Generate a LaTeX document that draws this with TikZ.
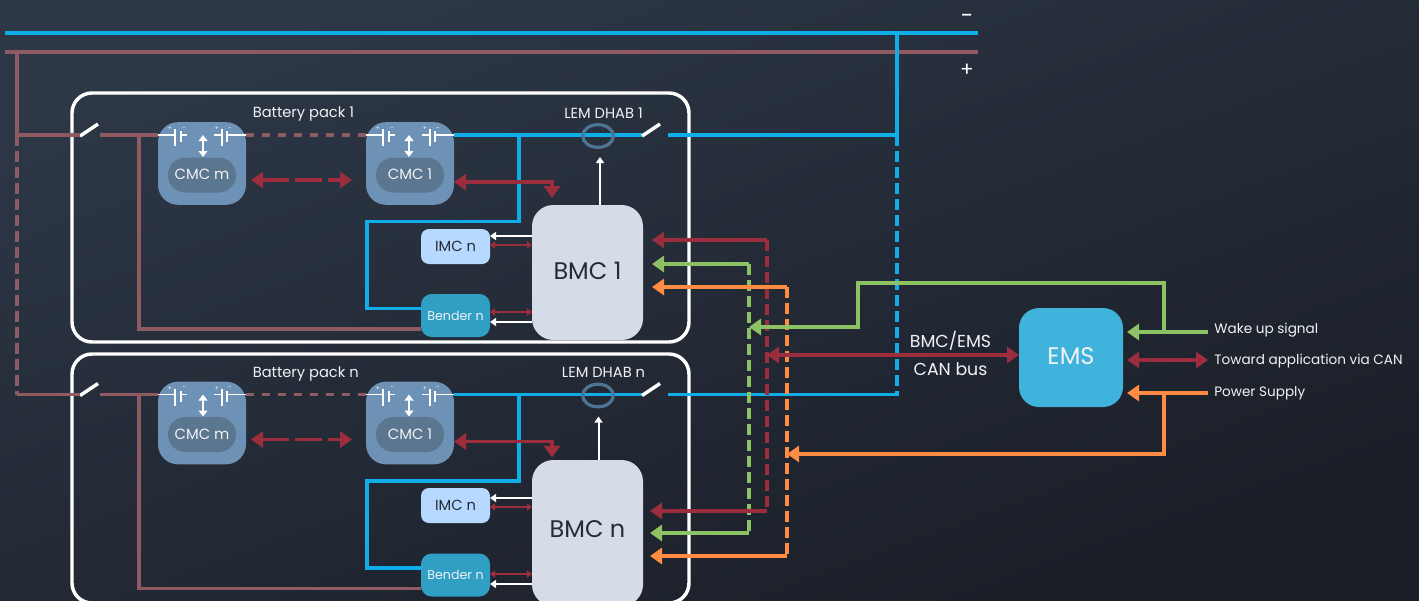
\documentclass[tikz,border=0pt]{standalone}
\usepackage{xcolor}
\usepackage{fontspec}
\setmainfont{Poppins}
\usetikzlibrary{arrows.meta,positioning,calc,shapes.geometric}
\definecolor{bgtop}{HTML}{2D3746}
\definecolor{bgbottom}{HTML}{1A1E27}
\definecolor{busblue}{HTML}{0FAEE8}
\definecolor{busbrown}{HTML}{8F5A62}
\definecolor{canred}{HTML}{9C2D3C}
\definecolor{wakegreen}{HTML}{8CC263}
\definecolor{powerorange}{HTML}{FF8C42}
\definecolor{ringblue}{HTML}{4F7596}
\definecolor{cmcblue}{HTML}{6E92B6}
\definecolor{cmcpill}{HTML}{5B768F}
\definecolor{bmcgrey}{HTML}{D5DCE7}
\definecolor{imcblue}{HTML}{B7D8FF}
\definecolor{benderblue}{HTML}{319FC4}
\definecolor{emsblue}{HTML}{3FB3DB}
\definecolor{ink}{HTML}{242C38}
\definecolor{paper}{HTML}{F0F2F5}
\tikzset{
    wire/.style={line width=2.9pt},
    bluewire/.style={wire,draw=busblue},
    brownwire/.style={wire,draw=busbrown},
    longdash/.style={dash pattern=on 8.5pt off 3.5pt},
    shortdash/.style={dash pattern=on 6pt off 6pt},
    switchbar/.style={draw=white,line width=2.6pt},
    packframe/.style={draw=white,line width=2.6pt,rounded corners=15pt,
      minimum width=462.75pt,inner sep=0pt,outer sep=0pt},
    cmcbox/.style={fill=cmcblue,rounded corners=15pt,minimum width=66pt,
      minimum height=62pt,inner sep=0pt,outer sep=0pt},
    cmcname/.style={fill=cmcpill,rounded corners=13pt,minimum width=51pt,
      minimum height=26.25pt,inner sep=0pt,outer sep=0pt,text=paper,font=\fontsize{11.1}{13}\selectfont},
    bmcbox/.style={fill=bmcgrey,rounded corners=16pt,minimum width=83.25pt,
      inner sep=0pt,outer sep=0pt,text=ink,font=\fontsize{18}{20}\selectfont},
    imcbox/.style={fill=imcblue,rounded corners=6pt,minimum width=51.75pt,
      minimum height=26.25pt,inner sep=0pt,outer sep=0pt,text=ink,font=\fontsize{11}{13}\selectfont},
    benderbox/.style={fill=benderblue,rounded corners=8pt,minimum width=51.75pt,
      minimum height=32.25pt,inner sep=0pt,outer sep=0pt,text=paper,font=\fontsize{9.5}{11}\selectfont},
    emsbox/.style={fill=emsblue,rounded corners=15pt,minimum width=78pt,
      minimum height=74.25pt,inner sep=0pt,outer sep=0pt,text=paper,font=\fontsize{18}{20}\selectfont},
    ringnode/.style={draw=ringblue,ellipse,line width=2.4pt,minimum width=23pt,
      minimum height=17pt,inner sep=0pt,outer sep=0pt},
    packlabel/.style={text=paper,inner sep=0pt,font=\fontsize{11}{13}\selectfont},
    signote/.style={text=paper,inner sep=0pt,anchor=west,font=\fontsize{10.2}{12}\selectfont},
    canlabel/.style={text=paper,inner sep=0pt,font=\fontsize{13}{15}\selectfont},
    polarity/.style={text=white,inner sep=0pt,font=\fontsize{4.5}{5}\selectfont},
    capline/.style={draw=white,line width=1.3pt},
    tinywhite/.style={-{Triangle[length=4.5pt,width=6pt]},draw=white,line width=1.5pt},
    tinyred/.style={{Triangle[length=3.8pt,width=5.5pt]}-{Triangle[length=3.8pt,width=5.5pt]},draw=canred,line width=1.1pt},
    cellarrow/.style={{Triangle[length=4.5pt,width=6.5pt]}-{Triangle[length=4.5pt,width=6.5pt]},draw=white,line width=2pt},
    canarrow/.style={{Triangle[length=9pt,width=12pt]}-{Triangle[length=9pt,width=12pt]},draw=canred,line width=2.9pt},
    redfeed/.style={-{Triangle[length=9pt,width=12pt]},draw=canred,line width=2.7pt},
    greenfeed/.style={-{Triangle[length=9pt,width=12pt]},draw=wakegreen,line width=2.7pt},
    orangefeed/.style={-{Triangle[length=9pt,width=12pt]},draw=powerorange,line width=2.7pt}
}
\begin{document}
\begin{tikzpicture}[x=0.75pt,y=-0.75pt]
  \useasboundingbox (0,0) rectangle (1419,600);
  \clip (0,0) rectangle (1419,600);
  \shade[left color=bgtop,right color=bgbottom,shading angle=20] (0,0) rectangle (1419,600);
  % bus bars
  \coordinate (blueL) at (5,33);
  \coordinate (blueR) at (978,33);
  \coordinate (brownL) at (5,52);
  \coordinate (brownR) at (978,52);
  \coordinate (brownT) at (17,52);
  \coordinate (blueT) at (897,33);
  \draw[brownwire] (brownL)--(brownR);
  \draw[bluewire] (blueL)--(blueR);
  \node[text=white,inner sep=0pt,font=\fontsize{17}{18}\selectfont] (minus) at (967,19) {-};
  \node[text=white,inner sep=0pt,font=\fontsize{15}{16}\selectfont] (plus) at (967,70) {+};
  % one pack per line
  \foreach \p/\dy/\fy/\fh/\by/\bh/\br/\iy/\gy/\iw/\ir/\gr/\gw/\ax in
    {1/0/217.5/186.75/272.5/101.25/3/246.5/315.5/236/245/312/322/600,
     n/259.5/478.5/186.75/533/109.5/6.5/505.5/575/498/507/574/584/598.5} {
    \node[packframe,minimum height=\fh pt] (frame\p) at (380.5,\fy) {};
    \node[packlabel,anchor=west] (title\p) at (252.5,114+\dy) {Battery pack \p};
    \node[packlabel] (lem\p) at (603.5,113+\dy) {LEM DHAB \p};
    \node[cmcbox] (cmcm\p) at (202,163.5+\dy) {};
    \node[cmcbox] (cmcone\p) at (410,163.5+\dy) {};
    \node[bmcbox,minimum height=\bh pt] (bmc\p) at (587.5,\by) {\raisebox{\br pt}{BMC \p}};
    \node[imcbox] (imc\p) at (455.5,\iy) {IMC n};
    \node[benderbox] (bender\p) at (455.5,\gy) {Bender n};
    \coordinate (tap\p) at (17,135+\dy);
    \coordinate (swa\p) at (80,136+\dy);
    \coordinate (swb\p) at (98,124+\dy);
    \coordinate (out\p) at (100,135+\dy);
    \coordinate (drop\p) at (139,135+\dy);
    \coordinate (swc\p) at (642,136+\dy);
    \coordinate (swd\p) at (660,124+\dy);
    \coordinate (back\p) at (668,135+\dy);
    \coordinate (side\p) at (897,135+\dy);
    \coordinate (branch\p) at (519,135+\dy);
    % power path
    \draw[switchbar] (swa\p)--(swb\p);
    \draw[brownwire] (out\p)--(cmcm\p.west |- out\p);
    \draw[brownwire,shortdash] (cmcm\p.east |- out\p)--(cmcone\p.west |- out\p);
    \draw[brownwire] (drop\p)--(139,329+\dy)--(bender\p.west |- 0,329+\dy);
    \draw[bluewire] (cmcone\p.east |- out\p)--(swc\p |- out\p);
    \draw[switchbar] (swc\p)--(swd\p);
    \draw[bluewire,shorten >=-1.45pt] (back\p)--(side\p);
    \draw[bluewire] (branch\p)--(519,221.5+\dy)--(367,221.5+\dy)--(367,308.5+\dy)--(bender\p.west |- 0,308.5+\dy);
    \node[ringnode] (ring\p) at (598,136+\dy) {};
    % cell symbols
    \foreach \c/\q/\cname/\ca in {202/cmcm/CMC m/203,410/cmcone/CMC 1/409} {
      \draw[capline] (\c-44,135+\dy)--(\c-27,135+\dy) (\c-27,129+\dy)--(\c-27,146+\dy)
        (\c-21,131+\dy)--(\c-21,142+\dy) (\c-21,135+\dy)--(\c-15,135+\dy);
      \draw[capline] (\c+12,135+\dy)--(\c+20,135+\dy) (\c+20,129+\dy)--(\c+20,146+\dy)
        (\c+25,131+\dy)--(\c+25,142+\dy) (\c+25,135+\dy)--(\c+44,135+\dy);
      \node[polarity] at (\c-32,129+\dy) {+};
      \node[polarity] at (\c-18,129+\dy) {-};
      \node[polarity] at (\c+15,129+\dy) {+};
      \node[polarity] at (\c+28,129+\dy) {-};
      \node[cmcname] (\q name\p) at (\c,175+\dy) {\raisebox{0.8pt}{\cname}};
      \draw[cellarrow] (\ca,135+\dy)--(\ca,157+\dy);
    }
    % links inside the pack
    \coordinate (lka\p) at (251,180+\dy);
    \coordinate (lkb\p) at (352,180+\dy);
    \draw[canarrow,dash pattern=on 20pt off 4.5pt] (lka\p)--(lkb\p);
    \draw[canarrow] (cmcone\p.east |- 0,182+\dy)--(552,182+\dy)--(552,198+\dy);
    \coordinate (sense\p) at (\ax,157+\dy);
    \draw[tinywhite] (sense\p |- bmc\p.north)--(sense\p);
    \coordinate (imcw\p) at (imc\p.east |- 0,\iw);
    \coordinate (imcr\p) at (imc\p.east |- 0,\ir);
    \coordinate (bendr\p) at (bender\p.east |- 0,\gr);
    \coordinate (bendw\p) at (bender\p.east |- 0,\gw);
    \draw[tinywhite] (imcw\p -| bmc\p.west)--(imcw\p);
    \draw[tinyred] (imcr\p)--(imcr\p -| bmc\p.west);
    \draw[tinyred] (bendr\p)--(bendr\p -| bmc\p.west);
    \draw[tinywhite] (bendw\p -| bmc\p.west)--(bendw\p);
  }
  % bus risers
  \draw[brownwire] (brownT)--(tap1)--(swa1 |- tap1);
  \draw[brownwire,longdash] (tap1)--(tapn);
  \draw[brownwire] (tapn)--(swan |- tapn);
  \draw[bluewire] (blueT)--(side1);
  \draw[bluewire,longdash] (side1)--(siden);
  % ems and its feeds
  \node[emsbox] (ems) at (1071,357.5) {\raisebox{2.2pt}{EMS}};
  \node[signote] (wake) at (1214,330) {Wake up signal};
  \node[signote] (toward) at (1214,361) {Toward application via CAN};
  \node[signote] (supply) at (1214,393) {Power Supply};
  \node[canlabel] (canone) at (950.5,341) {BMC/EMS};
  \node[canlabel] (cantwo) at (950.5,369) {CAN bus};
  \coordinate (redtop) at (767,240);
  \coordinate (redlow) at (767,511);
  \coordinate (greentop) at (749,264);
  \coordinate (greenlow) at (749,533);
  \coordinate (orangetop) at (787,287);
  \coordinate (orangelow) at (787,556);
  \draw[wire,draw=canred,longdash] (redtop)--(redlow);
  \draw[wire,draw=wakegreen,longdash] (greentop)--(greenlow);
  \draw[wire,draw=powerorange,longdash] (orangetop)--(orangelow);
  \draw[redfeed] (redtop)--(652,240);
  \draw[greenfeed] (greentop)--(652,264);
  \draw[orangefeed] (orangetop)--(652,287);
  \draw[redfeed] (redlow)--(650,511);
  \draw[greenfeed] (greenlow)--(650,533);
  \draw[orangefeed] (orangelow)--(650,556);
  \coordinate (wakeend) at (1208,332);
  \coordinate (towardend) at (1208,360);
  \coordinate (supplyend) at (1208,393);
  \draw[greenfeed] (wakeend)--(1127,332);
  \draw[greenfeed] (1164,332)--(1164,283)--(858,283)--(858,327)--(greentop |- 0,327);
  \draw[canarrow] (towardend)--(1127,360);
  \draw[canarrow] (redtop |- 0,355)--(ems.west |- 0,355);
  \draw[orangefeed] (supplyend)--(1127,393);
  \draw[orangefeed] (1164,393)--(1164,454)--(orangetop |- 0,454);
\end{tikzpicture}
\end{document}
